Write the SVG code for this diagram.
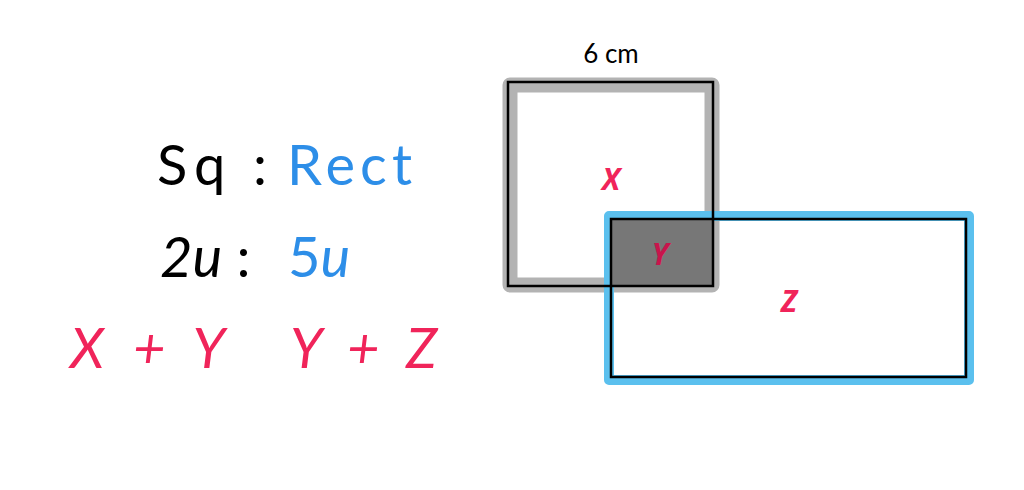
<svg xmlns="http://www.w3.org/2000/svg" width="1024" height="490" viewBox="0 0 1024 490">
<style>
.t{font-family:Lato,"Open Sans","Liberation Sans",sans-serif;}
.big{font-size:56px}
.red{fill:#f0245a}
.blue{fill:#2d8ee8}
.lbl{font-family:"Open Sans","Liberation Sans",sans-serif;font-weight:bold;font-style:italic;font-size:30px;fill:#f0245a;text-anchor:middle}
</style>
<rect width="1024" height="490" fill="#fff"/>
<g id="text">
<text class="t big" x="157" y="185" textLength="110">Sq :</text>
<text class="t big blue" x="287" y="185" textLength="125">Rect</text>
<text class="t big" x="160" y="277"><tspan font-style="italic">2u</tspan><tspan> :</tspan></text>
<text class="t big blue" x="288" y="277"><tspan>5</tspan><tspan font-style="italic">u</tspan></text>
<text class="t big red" x="70" y="368" font-style="italic" textLength="155">X + Y</text>
<text class="t big red" x="290" y="368" font-style="italic" textLength="147">Y + Z</text>
<text class="t" x="611" y="63" font-size="26" text-anchor="middle">6 cm</text>
</g>
<g id="square">
<rect x="510" y="85" width="202" height="200" fill="none" stroke="#b3b3b3" stroke-width="15" stroke-linejoin="round"/>
</g>
<g id="rect">
<rect x="609" y="216" width="360" height="164" fill="none" stroke="#5bc0ee" stroke-width="10" stroke-linejoin="round"/>
</g>
<g id="overlap">
<rect x="612" y="219" width="101" height="67" fill="#777"/>
</g>
<g id="lines" fill="none" stroke="#000" stroke-width="2.5">
<rect x="508" y="82" width="205" height="204"/>
<rect x="611" y="219" width="355" height="158"/>
</g>
<g id="labels">
<text class="lbl" x="611" y="190">X</text>
<text class="lbl" x="660" y="265" style="fill:#c8154c">Y</text>
<text class="lbl" x="789" y="312">Z</text>
</g>
</svg>
